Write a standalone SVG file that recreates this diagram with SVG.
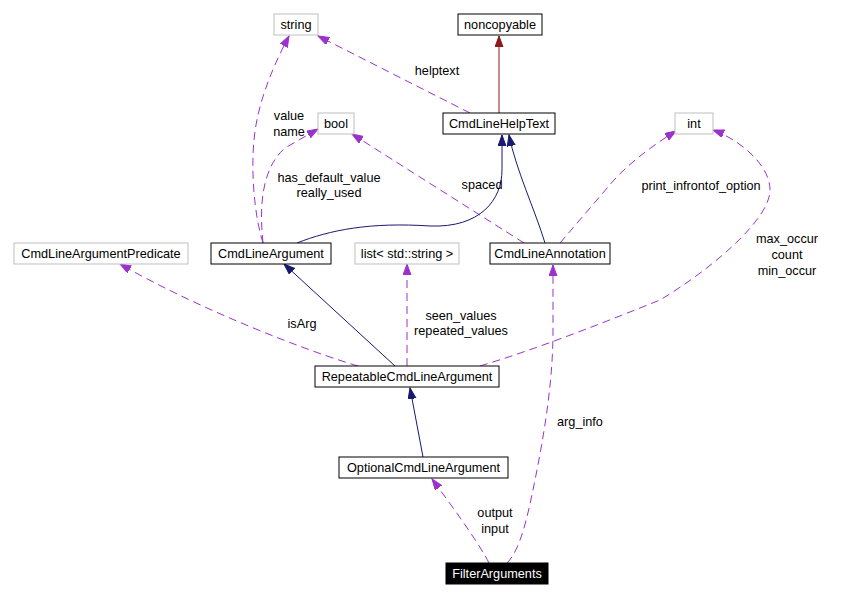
<svg xmlns="http://www.w3.org/2000/svg" width="867" height="598" viewBox="0 0 867 598">
<style>
  text { font-family: "Liberation Sans", Arial, sans-serif; font-size: 12.7px; fill: #000; }
  .node rect { fill: #fff; stroke: #000; stroke-width: 1; }
  .node.ext rect { stroke: #bfbfbf; }
  .node text { text-anchor: middle; }
  .node.dark rect { fill: #000; stroke: #000; }
  .node.dark text { fill: #fff; }
  .use { fill: none; stroke: #9a32cd; stroke-width: 1; stroke-dasharray: 8,5; marker-end: url(#aP); }
  .pub { fill: none; stroke: #191970; stroke-width: 1; marker-end: url(#aN); }
  .priv { fill: none; stroke: #8b1a1a; stroke-width: 1; marker-end: url(#aR); }
  .lbl { text-anchor: middle; }
</style>
<defs>
  <marker id="aP" markerUnits="userSpaceOnUse" markerWidth="12" markerHeight="9" refX="11" refY="4" orient="auto">
    <path d="M0,0 L11,4 L0,8 z" fill="#9a32cd" stroke="#9a32cd"/>
  </marker>
  <marker id="aN" markerUnits="userSpaceOnUse" markerWidth="12" markerHeight="9" refX="11" refY="4" orient="auto">
    <path d="M0,0 L11,4 L0,8 z" fill="#191970" stroke="#191970"/>
  </marker>
  <marker id="aR" markerUnits="userSpaceOnUse" markerWidth="12" markerHeight="9" refX="11" refY="4" orient="auto">
    <path d="M0,0 L11,4 L0,8 z" fill="#8b1a1a" stroke="#8b1a1a"/>
  </marker>
</defs>
<rect x="0" y="0" width="867" height="598" fill="#fff"/>

<g id="connectors">
  <path class="priv" d="M499,113 L499,36"/>
  <path class="use" d="M470,113 L318,36"/>
  <path class="use" d="M263,243 C254,215 251,170 254,140 C257,105 272,68 289,36"/>
  <path class="use" d="M263,243 C259,205 262,168 285,148 L318,129"/>
  <path class="use" d="M524,243 L352,134"/>
  <path class="pub" d="M297,243 C330,230 370,222 430,226 C480,228 502,200 502,170 L502,135"/>
  <path class="pub" d="M545,243 C535,210 516,170 509,135"/>
  <path class="use" d="M560,243 L608,187 C620,172 642,152 676,131"/>
  <path class="use" d="M480,366 C540,348 610,320 660,300 C710,270 770,220 770,190 C770,165 740,140 713,130"/>
  <path class="use" d="M358,366 C310,352 200,310 120,264"/>
  <path class="pub" d="M395,366 L284,264"/>
  <path class="use" d="M407,366 L407,264"/>
  <path class="pub" d="M423,457 L410,388"/>
  <path class="use" d="M489,563 C480,545 455,510 432,479"/>
  <path class="use" d="M507,563 C520,550 527,520 535,480 C545,430 553,380 553,330 L553,265"/>
</g>

<g id="edge-labels">
  <text class="lbl" x="437" y="75">helptext</text>
  <text class="lbl" x="289" y="120">value</text>
  <text class="lbl" x="289" y="136">name</text>
  <text class="lbl" x="329" y="182">has_default_value</text>
  <text class="lbl" x="329" y="197">really_used</text>
  <text class="lbl" x="482" y="189">spaced</text>
  <text class="lbl" x="701" y="190">print_infrontof_option</text>
  <text class="lbl" x="787" y="243">max_occur</text>
  <text class="lbl" x="787" y="259">count</text>
  <text class="lbl" x="787" y="275">min_occur</text>
  <text class="lbl" x="302" y="328">isArg</text>
  <text class="lbl" x="461" y="320">seen_values</text>
  <text class="lbl" x="461" y="335">repeated_values</text>
  <text class="lbl" x="580" y="426">arg_info</text>
  <text class="lbl" x="495" y="517">output</text>
  <text class="lbl" x="495" y="533">input</text>
</g>

<g id="node-string" class="node ext"><rect x="274" y="14" width="44" height="21"/><text x="296" y="29">string</text></g>
<g id="node-noncopyable" class="node"><rect x="458" y="14" width="84" height="21"/><text x="500" y="29">noncopyable</text></g>
<g id="node-bool" class="node ext"><rect x="318" y="113" width="36" height="21"/><text x="336" y="128">bool</text></g>
<g id="node-CmdLineHelpText" class="node"><rect x="443" y="113" width="112" height="21"/><text x="499" y="128">CmdLineHelpText</text></g>
<g id="node-int" class="node ext"><rect x="675" y="113" width="38" height="21"/><text x="694" y="128">int</text></g>
<g id="node-CmdLineArgumentPredicate" class="node ext"><rect x="14" y="243" width="174" height="21"/><text x="101" y="258">CmdLineArgumentPredicate</text></g>
<g id="node-CmdLineArgument" class="node"><rect x="211" y="243" width="120" height="21"/><text x="271" y="258">CmdLineArgument</text></g>
<g id="node-list" class="node ext"><rect x="355" y="243" width="104" height="21"/><text x="407" y="258">list&lt; std::string &gt;</text></g>
<g id="node-CmdLineAnnotation" class="node"><rect x="490" y="243" width="120" height="21"/><text x="550" y="258">CmdLineAnnotation</text></g>
<g id="node-RepeatableCmdLineArgument" class="node"><rect x="315" y="366" width="184" height="21"/><text x="407" y="381">RepeatableCmdLineArgument</text></g>
<g id="node-OptionalCmdLineArgument" class="node"><rect x="339" y="457" width="169" height="21"/><text x="423.5" y="472">OptionalCmdLineArgument</text></g>
<g id="node-FilterArguments" class="node dark"><rect x="446" y="563" width="102" height="21"/><text x="497" y="578">FilterArguments</text></g>
</svg>
